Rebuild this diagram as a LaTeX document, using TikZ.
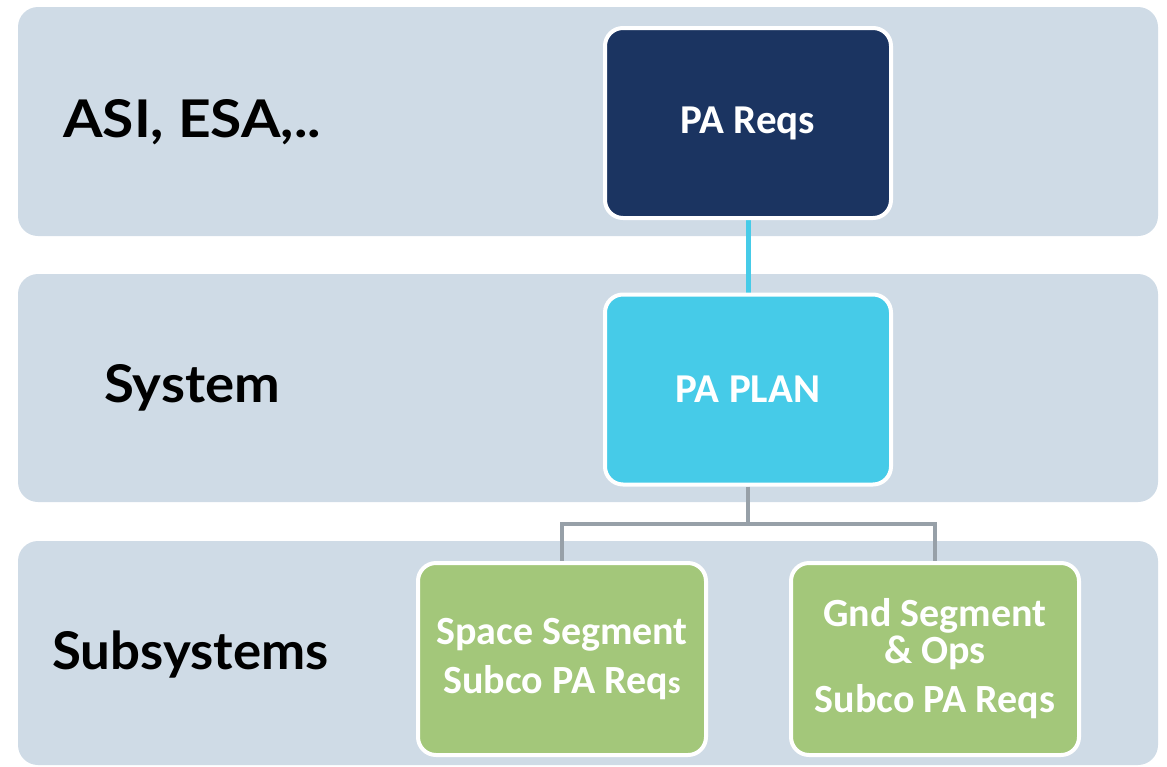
\documentclass[tikz,border=0pt]{standalone}
\usepackage{fontspec}
\setmainfont{Lato}
\newfontfamily\boxfont{Carlito}
\definecolor{bandc}{HTML}{CFDBE6}
\definecolor{navyc}{HTML}{1B3461}
\definecolor{cyanc}{HTML}{46CBE8}
\definecolor{greenc}{HTML}{A3C77A}
\definecolor{greyc}{HTML}{97A0A8}
\begin{document}
\begin{tikzpicture}[x=1pt,y=-1pt,
  band/.style={fill=bandc,rounded corners=20pt},
  lbl/.style={font=\fontsize{52}{56}\selectfont\bfseries,text=black,anchor=west,inner sep=0pt},
  boxn/.style={draw=white,line width=4pt,rounded corners=18pt,minimum width=286pt,minimum height=190pt,text=white,align=center,inner sep=0pt},
  boxt/.style={font=\boxfont\fontsize{41}{49}\selectfont\bfseries},
  gboxt/.style={font=\boxfont\fontsize{40}{49}\selectfont\bfseries},
  link/.style={line width=5pt}
]
\useasboundingbox (0,0) rectangle (1167,766);
\fill[band] (18,7) rectangle (1158,236);
\fill[band] (18,274) rectangle (1158,502);
\fill[band] (18,541) rectangle (1158,765);

\node[lbl,xscale=1.095] (l1) at (63,122) {ASI, ESA,..};
\node[lbl,xscale=1.05] (l2) at (104,388) {System};
\node[lbl,xscale=1.015] (l3) at (52,655) {Subsystems};

\coordinate (bus) at (748,524);
\coordinate (reqsb) at (748,216);
\coordinate (plant) at (748,294);
\draw[link,cyanc] (reqsb) -- (plant);

\node[boxn,fill=navyc,boxt] (reqs) at (748,123) {PA Reqs};
\node[boxn,fill=cyanc,boxt] (plan) at (748,389.5) {PA PLAN};
\node[boxn,fill=greenc,gboxt,minimum width=288pt,minimum height=192pt] (space) at (562,659) {Space Segment\\Subco PA Req{\fontsize{32}{49}\selectfont s}};
\node[boxn,fill=greenc,gboxt,minimum width=288pt,minimum height=192pt] (gnd) at (935,659) {Gnd Segment\\[-12pt]\& Ops\\Subco PA Reqs};

\draw[greyc,line width=4pt] (plan.south) -- (bus) -| (space.north);
\draw[greyc,line width=4pt] (bus) -| (gnd.north);
\end{tikzpicture}
\end{document}
